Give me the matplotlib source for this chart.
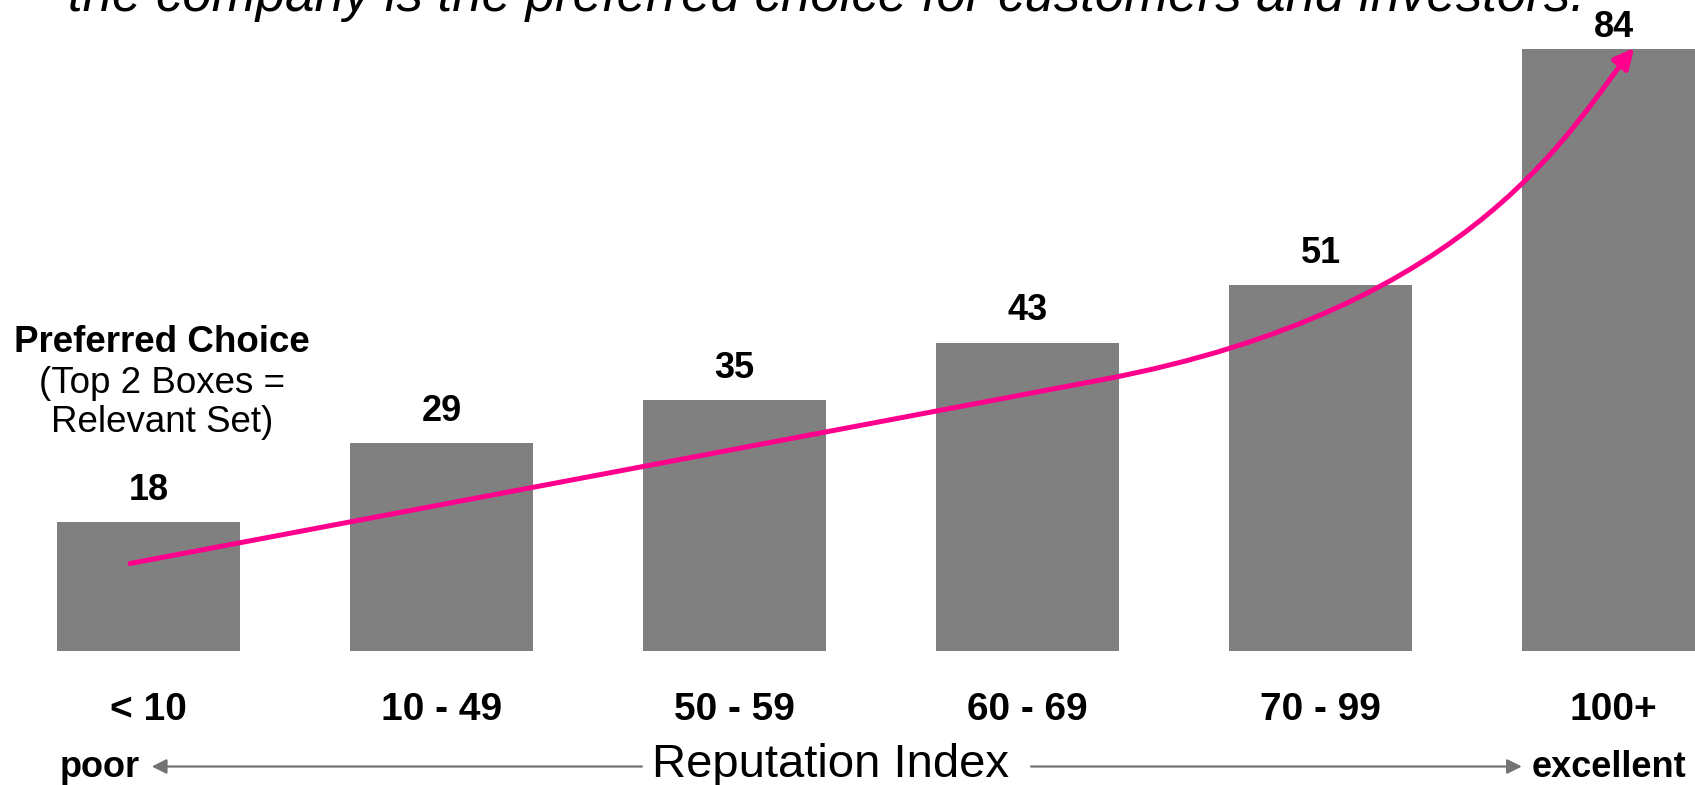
import matplotlib
matplotlib.use("Agg")
import matplotlib.pyplot as plt
from matplotlib.path import Path
from matplotlib.patches import FancyArrowPatch

plt.rcParams['font.family'] = ['Liberation Sans', 'DejaVu Sans']

# data
categories = ['< 10', '10 - 49', '50 - 59', '60 - 69', '70 - 99', '100+']
values = [18, 29, 35, 43, 51, 84]
title = 'the company is the preferred choice for customers and investors.'

BAR = '#808080'
PINK = '#FF008C'
ARROW_GREY = '#737373'

fig = plt.figure(figsize=(16.95, 7.85), dpi=100)
ax = fig.add_axes([0, 0, 1, 1])
ax.set_xlim(-0.507, 5.278)
ax.set_ylim(-18.69, 90.79)
ax.axis('off')

x = list(range(len(values)))
ax.bar(x, values, width=0.625, color=BAR, zorder=1)

# value labels above bars (top one squeezed under the figure edge)
for xi, v in zip(x, values):
    ax.text(xi, min(v + 3.1, 85.6), str(v), ha='center', va='baseline',
            fontsize=26, fontweight='bold')

# category labels
for xi, c in zip(x, categories):
    ax.text(xi, -9.62, c, ha='center', va='baseline',
            fontsize=28, fontweight='bold')

# y-axis description on the left
ax.text(0.046, 41.7, 'Preferred Choice', ha='center', va='baseline',
        fontsize=26.5, fontweight='bold')
ax.text(0.046, 36.0, '(Top 2 Boxes =', ha='center', va='baseline', fontsize=26.5)
ax.text(0.046, 30.6, 'Relevant Set)', ha='center', va='baseline', fontsize=26.5)

# trend arrow: straight part, then bend upward to the last bar
verts = [(-0.063, 12.2), (3.25, 37.8),
         (4.55, 47.8), (4.87, 74.2), (5.07, 84.1)]
codes = [Path.MOVETO, Path.LINETO, Path.CURVE4, Path.CURVE4, Path.CURVE4]
trend = FancyArrowPatch(path=Path(verts, codes), arrowstyle='-|>',
                        mutation_scale=30, color=PINK, lw=3.6, zorder=3)
ax.add_patch(trend)

# bottom scale: poor <---- Reputation Index ----> excellent
base = -17.57
ax.text(-0.030, base, 'poor', ha='right', va='baseline',
        fontsize=26, fontweight='bold')
ax.text(4.722, base, 'excellent', ha='left', va='baseline',
        fontsize=26, fontweight='bold')
ax.text(2.329, base, 'Reputation Index', ha='center', va='baseline', fontsize=34)
arr = dict(arrowstyle='-|>', color=ARROW_GREY, lw=1.6, mutation_scale=22,
           shrinkA=0, shrinkB=0)
ax.annotate('', xy=(0.011, -16.11), xytext=(1.684, -16.11), arrowprops=arr)
ax.annotate('', xy=(4.687, -16.11), xytext=(3.012, -16.11), arrowprops=arr)

# title, cut off by the top edge as in the source slide
fig.text(68 / 1695, 1 - 10.5 / 785, title, ha='left', va='baseline',
         fontsize=38, style='italic')

fig.savefig('out.png', dpi=100)
